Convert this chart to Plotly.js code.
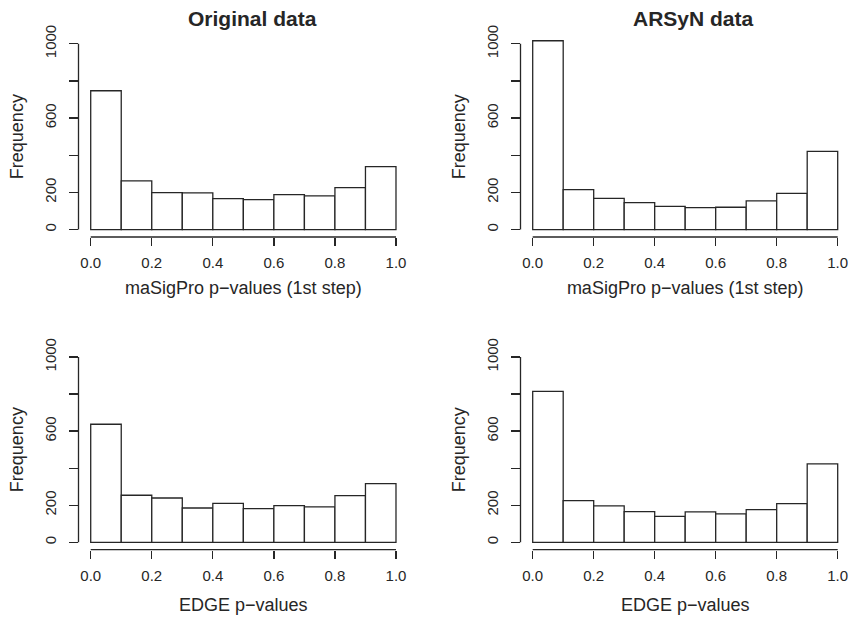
<!DOCTYPE html>
<html>
<head>
<meta charset="utf-8">
<script src="https://cdn.plot.ly/plotly-3.0.1.min.js"></script>
<style>html,body{margin:0;padding:0;background:#fff;}#chart{width:850px;height:617px;}</style>
</head>
<body>
<div id="chart"></div>
<script>
// Histogram bins (mid-points of p-value bins, width 0.1)
var binMids = [0.05, 0.15, 0.25, 0.35, 0.45, 0.55, 0.65, 0.75, 0.85, 0.95];
var binWidth = 0.1;

// Frequencies
var origMaSigPro  = [747, 262, 199, 197, 167, 161, 188, 181, 226, 339];
var arsynMaSigPro = [1016, 215, 168, 145, 125, 118, 120, 154, 195, 421];
var origEDGE      = [637, 254, 239, 185, 210, 182, 198, 191, 252, 317];
var arsynEDGE     = [815, 225, 196, 165, 140, 164, 153, 176, 209, 423];

var panelTitles = ["Original data", "ARSyN data"];
var xTitles = ["maSigPro p\u2212values (1st step)", "EDGE p\u2212values"];
var yTitle = "Frequency";

var xTickVals = [0, 0.2, 0.4, 0.6, 0.8, 1.0];
var xTickText = ["0.0", "0.2", "0.4", "0.6", "0.8", "1.0"];
var yTickVals = [0, 200, 400, 600, 800, 1000];
var yTickText = ["0", "200", "", "600", "", "1000"];

var FONT = "Liberation Sans, Arial, Helvetica, sans-serif";
var INK = "#262626";

var series = [origMaSigPro, arsynMaSigPro, origEDGE, arsynEDGE];
var W = 850, H = 617;
var xDom = [[78.5 / W, 408.2 / W], [520.5 / W, 849.9 / W]];
var yDom = [[(H - 237) / H, (H - 36.3) / H], [(H - 549.7) / H, (H - 349.6) / H]];
var xTitleStandoff = [11, 15];

var traces = [];
var layout = {
  width: W, height: H,
  margin: {l: 0, r: 0, t: 0, b: 0},
  paper_bgcolor: "#fff", plot_bgcolor: "#fff",
  showlegend: false,
  font: {family: FONT, color: INK},
  shapes: [], annotations: []
};

for (var i = 0; i < 4; i++) {
  var row = Math.floor(i / 2), col = i % 2;
  var n = i + 1;
  var xa = "x" + (n === 1 ? "" : n), ya = "y" + (n === 1 ? "" : n);
  traces.push({
    type: "bar", x: binMids, y: series[i], width: binWidth,
    xaxis: xa, yaxis: ya,
    marker: {color: "#ffffff", line: {color: INK, width: 1.3}},
    hoverinfo: "x+y"
  });
  var xk = "xaxis" + (n === 1 ? "" : n), yk = "yaxis" + (n === 1 ? "" : n);
  layout[xk] = {
    domain: xDom[col], anchor: ya, range: [-0.04, 1.04],
    showgrid: false, zeroline: false, showline: false,
    ticks: "outside", ticklen: 8, tickwidth: 1.3, tickcolor: INK,
    tickmode: "array", tickvals: xTickVals, ticktext: xTickText,
    ticklabelstandoff: 4,
    tickfont: {family: FONT, size: 15, color: INK},
    title: {text: xTitles[row], font: {family: FONT, size: 18, color: INK}, standoff: xTitleStandoff[row]}
  };
  layout[yk] = {
    domain: yDom[row], anchor: xa, range: [-40, 1040],
    showgrid: false, zeroline: false, showline: false,
    ticks: "outside", ticklen: 9, tickwidth: 1.3, tickcolor: INK,
    tickmode: "array", tickvals: yTickVals, ticktext: yTickText,
    tickangle: -90, ticklabelstandoff: 7,
    tickfont: {family: FONT, size: 15, color: INK},
    title: {text: yTitle, font: {family: FONT, size: 18, color: INK}, standoff: 13}
  };
  // R-style axis lines spanning first to last tick only
  layout.shapes.push({type: "line", xref: xa, yref: ya + " domain",
    x0: xTickVals[0], x1: xTickVals[xTickVals.length - 1], y0: 0, y1: 0,
    line: {color: INK, width: 1.3}});
  layout.shapes.push({type: "line", xref: xa + " domain", yref: ya,
    x0: 0, x1: 0, y0: yTickVals[0], y1: yTickVals[yTickVals.length - 1],
    line: {color: INK, width: 1.3}});
}

var titleX = [252.7 / W, 693.7 / W];
for (var c = 0; c < 2; c++) {
  layout.annotations.push({
    text: "<b>" + panelTitles[c] + "</b>", xref: "paper", yref: "paper",
    x: titleX[c], y: (H - 18) / H, xanchor: "center", yanchor: "middle",
    showarrow: false, font: {family: FONT, size: 21, color: INK}
  });
}

Plotly.newPlot("chart", traces, layout, {displayModeBar: false, staticPlot: true});
</script>
</body>
</html>
